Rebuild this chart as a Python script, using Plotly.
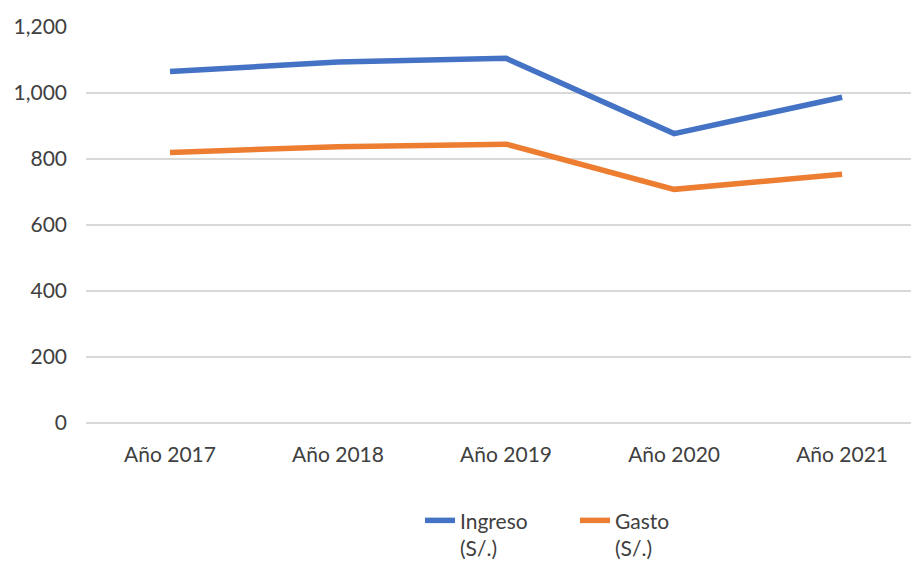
import plotly.graph_objects as go

categories = ["Año 2017", "Año 2018", "Año 2019", "Año 2020", "Año 2021"]
ingreso = [1065, 1094, 1105, 877, 987]
gasto = [820, 837, 845, 708, 754]
y_ticks = [0, 200, 400, 600, 800, 1000, 1200]
y_tick_labels = ["0", "200", "400", "600", "800", "1,000", "1,200"]

FONT = "Lato, 'Open Sans', 'DejaVu Sans', sans-serif"
TXT = "#404040"

fig = go.Figure()
fig.add_trace(go.Scatter(x=categories, y=ingreso, mode="lines", name="Ingreso<br>(S/.)",
                         line=dict(color="#4472C4", width=5.5)))
fig.add_trace(go.Scatter(x=categories, y=gasto, mode="lines", name="Gasto<br>(S/.)",
                         line=dict(color="#ED7D31", width=5.5)))

fig.update_layout(
    width=911, height=561,
    margin=dict(l=86, r=0, t=27, b=138, autoexpand=False),
    paper_bgcolor="white", plot_bgcolor="white",
    font=dict(family=FONT, size=21, color=TXT),
    showlegend=True,
    legend=dict(orientation="h", x=(420 - 86) / 825, xanchor="left", y=-0.195, yanchor="top",
                valign="top", font=dict(family=FONT, size=21, color=TXT),
                entrywidth=110, entrywidthmode="pixels", tracegroupgap=0),
    xaxis=dict(type="category", range=[-0.5, 4.41], showgrid=False, zeroline=False,
               showline=False, ticks="", ticklabelstandoff=17, automargin=False,
               tickfont=dict(family=FONT, size=21, color=TXT)),
    yaxis=dict(range=[0, 1200], tickvals=y_ticks, ticktext=y_tick_labels,
               showgrid=True, gridcolor="#D9D9D9", gridwidth=1.5,
               zeroline=True, zerolinecolor="#D9D9D9", zerolinewidth=1.5,
               showline=False, ticks="", ticklabelstandoff=18, automargin=False,
               tickfont=dict(family=FONT, size=21, color=TXT)),
)

fig.write_html("out.html", config={"displayModeBar": False},
               post_script="document.body.style.margin='0';")
